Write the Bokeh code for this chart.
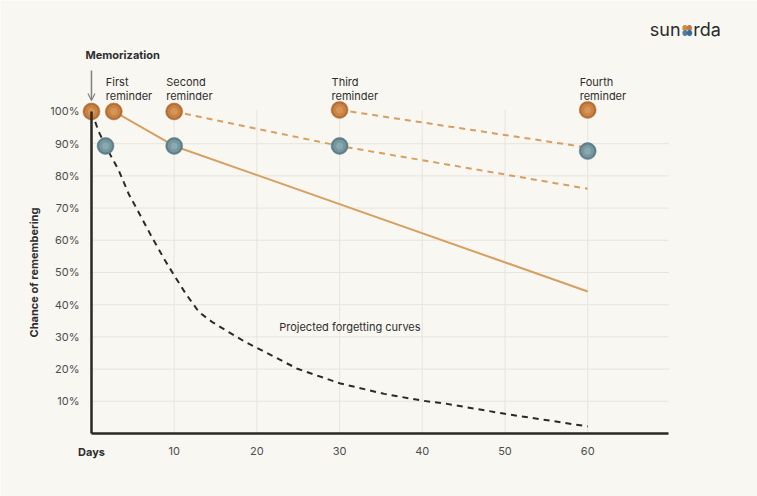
from bokeh.plotting import figure
from bokeh.models import Range1d, FixedTicker, Label, Arrow, OpenHead, LinearAxis
from bokeh.embed import file_html
from bokeh.resources import INLINE

# ---------------- data ----------------
x_ticks = [0, 10, 20, 30, 40, 50, 60]
x_tick_labels = ["", "10", "20", "30", "40", "50", "60"]
y_ticks = [10, 20, 30, 40, 50, 60, 70, 80, 90, 100]
y_tick_labels = ["10%", "20%", "30%", "40%", "50%", "60%", "70%", "80%", "90%", "100%"]
grid_y = [10, 20, 30, 40, 50, 60, 70, 80, 90]
x_max = 69.8

# projected forgetting curve without reminders
forget_days = [0, 0.9, 1.7, 3.3, 4.5, 5.7, 7.3, 8.9, 10, 11.4, 13, 14.6, 16.6,
               18.6, 20.6, 24.9, 30, 35.4, 40, 43, 50, 60]
forget_vals = [100, 93.6, 89.3, 81.7, 74.4, 68.7, 61.0, 53.7, 49.1, 43.4, 37.7,
               34.6, 31.5, 28.4, 25.8, 20.1, 15.6, 12.3, 10.2, 9.2, 6.1, 2.2]

# curves after each reminder
after_first_days = [2.7, 10, 60]
after_first_vals = [100, 89.3, 44.1]
after_second_days = [10, 30, 60]
after_second_vals = [100, 89.3, 76.0]
after_third_days = [30, 60]
after_third_vals = [100.5, 88.8]

# memorization + reminders (orange) and recall points (blue)
reminder_days = [0, 2.7, 10, 30, 60]
reminder_vals = [100, 100, 100, 100.5, 100.5]
recall_days = [1.7, 10, 30, 60]
recall_vals = [89.3, 89.3, 89.3, 87.7]
reminder_names = ["First\nreminder", "Second\nreminder", "Third\nreminder", "Fourth\nreminder"]

# ---------------- style ----------------
BG = "#f8f7f2"
GRID = "#e8e4dc"
AXIS = "#2b2825"
TXT = "#2e2e2e"
TICK_TXT = "#4d4d4d"
ORANGE_LINE = "#d6a062"
FONT = "Inter"

p = figure(width=757, height=496,
           x_range=Range1d(-11.0, 80.53), y_range=Range1d(-19.57, 134.47),
           min_border=0, x_axis_location=None, y_axis_location=None,
           output_backend="svg", toolbar_location=None,
           background_fill_color=BG, border_fill_color=BG)
p.outline_line_color = None
p.grid.grid_line_color = None

# axes drawn at the data origin
xaxis = LinearAxis(fixed_location=0, bounds=(0, x_max), ticker=FixedTicker(ticks=x_ticks))
xaxis.major_label_overrides = dict(zip(x_ticks, x_tick_labels))
yaxis = LinearAxis(fixed_location=0, bounds=(0, 100), ticker=FixedTicker(ticks=y_ticks))
yaxis.major_label_overrides = dict(zip(y_ticks, y_tick_labels))
for ax in (xaxis, yaxis):
    ax.axis_line_color = AXIS
    ax.axis_line_width = 2.5
    ax.major_tick_line_color = None
    ax.minor_tick_line_color = None
    ax.major_label_text_font = FONT
    ax.major_label_text_font_size = "11px"
    ax.major_label_text_color = TICK_TXT
xaxis.major_label_standoff = 8
yaxis.major_label_standoff = 6
yaxis.axis_label = "Chance of remembering"
yaxis.axis_label_text_font = FONT
yaxis.axis_label_text_font_size = "11px"
yaxis.axis_label_text_font_style = "bold"
yaxis.axis_label_text_color = TXT
yaxis.axis_label_standoff = 6
p.add_layout(xaxis, "below")
p.add_layout(yaxis, "left")

# grid lines limited to the plotting area
p.segment(x0=[0] * len(grid_y), y0=grid_y, x1=[x_max] * len(grid_y), y1=grid_y,
          line_color=GRID, line_width=1)
p.segment(x0=x_ticks[1:], y0=[0] * 6, x1=x_ticks[1:], y1=[100.5] * 6,
          line_color=GRID, line_width=1)

# curves
p.line(forget_days, forget_vals, line_color="#2a2a2a", line_width=2, line_dash="6 5")
p.line(after_first_days, after_first_vals, line_color=ORANGE_LINE, line_width=2)
p.line(after_second_days, after_second_vals, line_color=ORANGE_LINE, line_width=2, line_dash="6 5")
p.line(after_third_days, after_third_vals, line_color=ORANGE_LINE, line_width=2, line_dash="6 5")

# points (layered for a soft spherical look)
for days, vals, shades in [
        (reminder_days, reminder_vals, ["#b46f36", "#c98444", "#d89a5c"]),
        (recall_days, recall_vals, ["#5f7f88", "#7797a0", "#8fadb4"])]:
    p.scatter(days, vals, size=17, fill_color=shades[0], line_color=shades[0], line_width=0.5)
    p.scatter(days, vals, size=13, fill_color=shades[1], line_color=None)
    p.scatter(days, vals, size=7, fill_color=shades[2], line_color=None, fill_alpha=0.8)

# annotations
def lab(x, y, text, **kw):
    opts = dict(text_font=FONT, text_font_size="11px", text_color=TXT,
                text_baseline="middle", text_align="left")
    opts.update(kw)
    p.add_layout(Label(x=x, y=y, text=text, **opts))

lab(0, 117.4, "Memorization", x_offset=-6, text_font_style="bold")
p.add_layout(Arrow(end=OpenHead(size=7, line_color="#808080", line_width=1.2),
                   x_start=0, y_start=112.7, x_end=0, y_end=103.4,
                   line_color="#808080", line_width=1.5))
for name, d in zip(reminder_names, reminder_days[1:]):
    lab(d, 107.0, name, x_offset=-8, text_line_height=1.0)
lab(22.7, 33.2, "Projected forgetting curves")
lab(0, -5.9, "Days", text_align="center", text_font_style="bold")

# logo
lab(67.5, 125.4, "sun", text_font_size="18px", text_color="#2b2b2b")
lab(72.75, 125.4, "rda", text_font_size="18px", text_color="#2b2b2b")
for dx, dy, c in [(71.75, 125.7, "#d08a4c"), (72.3, 125.7, "#c27a3e"),
                  (71.75, 124.2, "#4f7fa3"), (72.3, 124.2, "#3f6a8f")]:
    lab(dx, dy, "\u25CF", text_font_size="7px", text_color=c, text_align="center")

open("out.html", "w").write(file_html(p, INLINE))
